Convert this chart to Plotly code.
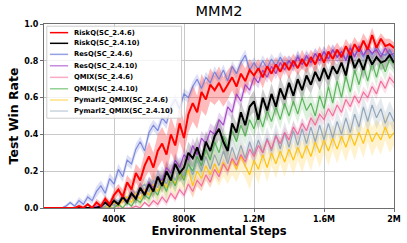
import plotly.graph_objects as go

steps = [i * 25000 for i in range(81)]

series_names = [
    "RiskQ(SC_2.4.6)", "RiskQ(SC_2.4.10)", "ResQ(SC_2.4.6)", "ResQ(SC_2.4.10)",
    "QMIX(SC_2.4.6)", "QMIX(SC_2.4.10)", "Pymarl2_QMIX(SC_2.4.6)", "Pymarl2_QMIX(SC_2.4.10)",
]

riskq_246 = [0, 0, 0, 0, 0, 0, 0, 0, 0.01, 0.0, 0.02, 0.0, 0.03, 0.01, 0.05, 0.02,
             0.07, 0.10, 0.06, 0.14, 0.10, 0.19, 0.15, 0.23, 0.28, 0.22, 0.31, 0.35,
             0.29, 0.40, 0.34, 0.46, 0.38, 0.51, 0.57, 0.52, 0.63, 0.59, 0.67, 0.64,
             0.68, 0.63, 0.67, 0.71, 0.66, 0.73, 0.69, 0.75, 0.72, 0.76, 0.71, 0.77,
             0.73, 0.78, 0.74, 0.79, 0.75, 0.80, 0.76, 0.81, 0.77, 0.82, 0.78, 0.84,
             0.79, 0.85, 0.81, 0.86, 0.82, 0.88, 0.83, 0.89, 0.85, 0.91, 0.86, 0.94,
             0.87, 0.92, 0.88, 0.89, 0.87]
riskq_246_sd = [0, 0, 0, 0, 0, 0, 0, 0, 0.01, 0.01, 0.01, 0.01, 0.02, 0.02, 0.02, 0.02,
                0.03, 0.03, 0.04, 0.04, 0.05, 0.05, 0.06, 0.07, 0.08, 0.08, 0.09, 0.09,
                0.10, 0.10, 0.09, 0.10, 0.09, 0.10, 0.10, 0.09, 0.10, 0.09, 0.09, 0.08,
                0.09, 0.08, 0.08, 0.07, 0.08, 0.07, 0.07, 0.06, 0.06, 0.05, 0.06, 0.05,
                0.05, 0.04, 0.05, 0.04, 0.05, 0.04, 0.04, 0.05, 0.04, 0.04, 0.05, 0.04,
                0.04, 0.04, 0.05, 0.04, 0.04, 0.04, 0.05, 0.04, 0.04, 0.04, 0.05, 0.04,
                0.04, 0.03, 0.04, 0.03, 0.03]

riskq_2410 = [0, 0, 0, 0, 0, 0, 0, 0, 0, 0, 0, 0, 0.0, 0.01, 0.03, 0.01,
              0.04, 0.02, 0.06, 0.03, 0.08, 0.05, 0.11, 0.07, 0.13, 0.09, 0.17, 0.12,
              0.20, 0.15, 0.24, 0.19, 0.22, 0.30, 0.27, 0.33, 0.26, 0.36, 0.31, 0.39,
              0.43, 0.36, 0.31, 0.46, 0.41, 0.52, 0.45, 0.55, 0.58, 0.48, 0.60, 0.53,
              0.62, 0.55, 0.65, 0.59, 0.68, 0.61, 0.70, 0.64, 0.72, 0.67, 0.74, 0.69,
              0.76, 0.70, 0.77, 0.73, 0.79, 0.72, 0.84, 0.76, 0.81, 0.75, 0.83, 0.78,
              0.82, 0.79, 0.80, 0.83, 0.79]
riskq_2410_sd = [0, 0, 0, 0, 0, 0, 0, 0, 0, 0, 0, 0, 0.01, 0.01, 0.01, 0.01,
                 0.02, 0.02, 0.02, 0.02, 0.03, 0.03, 0.03, 0.03, 0.04, 0.04, 0.04, 0.04,
                 0.05, 0.05, 0.05, 0.05, 0.05, 0.06, 0.05, 0.06, 0.05, 0.06, 0.05, 0.06,
                 0.06, 0.05, 0.06, 0.06, 0.05, 0.06, 0.06, 0.05, 0.06, 0.06, 0.05, 0.06,
                 0.06, 0.05, 0.06, 0.06, 0.05, 0.06, 0.05, 0.05, 0.06, 0.05, 0.05, 0.05,
                 0.05, 0.05, 0.04, 0.05, 0.05, 0.04, 0.05, 0.04, 0.04, 0.05, 0.04, 0.04,
                 0.04, 0.04, 0.04, 0.04, 0.04]

resq_246 = [0, 0, 0, 0, 0, 0.01, 0.03, 0.01, 0.04, 0.02, 0.06, 0.04, 0.09, 0.12, 0.08, 0.16,
            0.13, 0.21, 0.17, 0.26, 0.24, 0.32, 0.36, 0.31, 0.41, 0.45, 0.42, 0.49,
            0.46, 0.55, 0.59, 0.54, 0.62, 0.60, 0.66, 0.70, 0.65, 0.71, 0.68, 0.74,
            0.70, 0.75, 0.69, 0.77, 0.73, 0.79, 0.83, 0.75, 0.79, 0.75, 0.80, 0.76,
            0.81, 0.77, 0.82, 0.78, 0.80, 0.77, 0.83, 0.78, 0.82, 0.79, 0.84, 0.80,
            0.85, 0.81, 0.86, 0.82, 0.85, 0.81, 0.87, 0.83, 0.86, 0.82, 0.87, 0.83,
            0.88, 0.84, 0.83, 0.86, 0.82]
resq_246_sd = [0, 0, 0, 0, 0, 0.01, 0.01, 0.01, 0.02, 0.02, 0.02, 0.02, 0.03, 0.03, 0.03, 0.03,
               0.03, 0.03, 0.03, 0.03, 0.03, 0.03, 0.03, 0.03, 0.03, 0.03, 0.03, 0.03,
               0.03, 0.03, 0.03, 0.03, 0.03, 0.03, 0.03, 0.03, 0.03, 0.03, 0.03, 0.03,
               0.03, 0.03, 0.03, 0.03, 0.03, 0.03, 0.03, 0.03, 0.03, 0.03, 0.03, 0.03,
               0.03, 0.03, 0.03, 0.03, 0.03, 0.03, 0.03, 0.03, 0.03, 0.03, 0.03, 0.03,
               0.03, 0.03, 0.03, 0.03, 0.03, 0.03, 0.03, 0.03, 0.03, 0.03, 0.03, 0.03,
               0.03, 0.03, 0.03, 0.03, 0.03]

resq_2410 = [0, 0, 0, 0, 0, 0, 0, 0, 0, 0, 0, 0, 0.01, 0.0, 0.03, 0.01,
             0.04, 0.02, 0.06, 0.04, 0.08, 0.06, 0.11, 0.08, 0.14, 0.11, 0.17, 0.15,
             0.22, 0.19, 0.26, 0.22, 0.29, 0.26, 0.34, 0.29, 0.38, 0.35, 0.42, 0.40,
             0.48, 0.45, 0.55, 0.52, 0.62, 0.58, 0.67, 0.64, 0.71, 0.68, 0.75, 0.71,
             0.77, 0.73, 0.79, 0.75, 0.80, 0.77, 0.82, 0.78, 0.83, 0.79, 0.84, 0.80,
             0.85, 0.81, 0.86, 0.82, 0.85, 0.80, 0.87, 0.82, 0.88, 0.83, 0.87, 0.84,
             0.86, 0.82, 0.87, 0.83, 0.84]
resq_2410_sd = [0, 0, 0, 0, 0, 0, 0, 0, 0, 0, 0, 0, 0.01, 0.01, 0.01, 0.01,
                0.02, 0.02, 0.02, 0.02, 0.03, 0.03, 0.03, 0.03, 0.03, 0.04, 0.04, 0.04,
                0.04, 0.04, 0.04, 0.04, 0.04, 0.04, 0.04, 0.04, 0.04, 0.04, 0.04, 0.04,
                0.04, 0.04, 0.04, 0.04, 0.04, 0.04, 0.03, 0.03, 0.03, 0.03, 0.03, 0.03,
                0.03, 0.03, 0.03, 0.03, 0.03, 0.03, 0.03, 0.03, 0.03, 0.03, 0.03, 0.03,
                0.03, 0.03, 0.03, 0.03, 0.03, 0.03, 0.03, 0.03, 0.03, 0.03, 0.03, 0.03,
                0.03, 0.03, 0.03, 0.03, 0.03]

qmix_246 = [0, 0, 0, 0, 0, 0, 0, 0, 0, 0, 0, 0, 0, 0, 0, 0,
            0, 0, 0, 0, 0.0, 0.01, 0.0, 0.03, 0.01, 0.04, 0.02, 0.06,
            0.03, 0.08, 0.05, 0.10, 0.07, 0.13, 0.09, 0.15, 0.12, 0.18, 0.14, 0.21,
            0.17, 0.24, 0.20, 0.27, 0.23, 0.29, 0.25, 0.32, 0.28, 0.34, 0.30, 0.37,
            0.32, 0.39, 0.35, 0.41, 0.37, 0.44, 0.40, 0.46, 0.42, 0.49, 0.45, 0.51,
            0.48, 0.54, 0.50, 0.56, 0.52, 0.59, 0.55, 0.61, 0.57, 0.63, 0.60, 0.66,
            0.62, 0.69, 0.65, 0.71, 0.68]
qmix_246_sd = [0, 0, 0, 0, 0, 0, 0, 0, 0, 0, 0, 0, 0, 0, 0, 0,
               0, 0, 0, 0, 0.01, 0.01, 0.01, 0.01, 0.01, 0.02, 0.02, 0.02,
               0.02, 0.02, 0.02, 0.02, 0.02, 0.03, 0.03, 0.03, 0.03, 0.03, 0.03, 0.03,
               0.03, 0.03, 0.03, 0.03, 0.03, 0.03, 0.03, 0.03, 0.03, 0.03, 0.03, 0.03,
               0.03, 0.03, 0.03, 0.03, 0.03, 0.03, 0.03, 0.03, 0.03, 0.03, 0.03, 0.03,
               0.03, 0.03, 0.03, 0.03, 0.03, 0.03, 0.03, 0.03, 0.03, 0.03, 0.03, 0.03,
               0.03, 0.03, 0.03, 0.03, 0.03]

qmix_2410 = [0, 0, 0, 0, 0, 0, 0, 0, 0, 0, 0, 0, 0, 0, 0, 0,
             0.0, 0.02, 0.0, 0.03, 0.01, 0.05, 0.03, 0.07, 0.05, 0.10, 0.07, 0.14,
             0.09, 0.17, 0.12, 0.20, 0.15, 0.24, 0.20, 0.28, 0.23, 0.32, 0.26, 0.36,
             0.30, 0.39, 0.33, 0.42, 0.36, 0.45, 0.39, 0.48, 0.43, 0.51, 0.44, 0.53,
             0.47, 0.55, 0.48, 0.57, 0.50, 0.58, 0.51, 0.60, 0.53, 0.57, 0.50, 0.61,
             0.54, 0.66, 0.57, 0.69, 0.60, 0.72, 0.63, 0.75, 0.67, 0.77, 0.69, 0.79,
             0.71, 0.80, 0.74, 0.81, 0.78]
qmix_2410_sd = [0, 0, 0, 0, 0, 0, 0, 0, 0, 0, 0, 0, 0, 0, 0, 0,
                0.01, 0.01, 0.01, 0.01, 0.02, 0.02, 0.02, 0.02, 0.03, 0.03, 0.03, 0.03,
                0.04, 0.04, 0.04, 0.04, 0.04, 0.04, 0.05, 0.05, 0.05, 0.05, 0.05, 0.05,
                0.05, 0.05, 0.05, 0.05, 0.05, 0.05, 0.05, 0.05, 0.05, 0.05, 0.05, 0.05,
                0.05, 0.05, 0.05, 0.05, 0.05, 0.05, 0.05, 0.06, 0.06, 0.06, 0.06, 0.06,
                0.06, 0.06, 0.06, 0.06, 0.06, 0.06, 0.06, 0.06, 0.06, 0.05, 0.05, 0.05,
                0.05, 0.05, 0.05, 0.05, 0.05]

pym_246 = [0, 0, 0, 0, 0, 0, 0, 0, 0, 0, 0, 0, 0, 0, 0.01, 0.0,
           0.03, 0.01, 0.04, 0.06, 0.03, 0.08, 0.05, 0.10, 0.07, 0.13, 0.09, 0.15,
           0.11, 0.17, 0.13, 0.19, 0.16, 0.21, 0.12, 0.20, 0.16, 0.23, 0.18, 0.24,
           0.19, 0.25, 0.20, 0.26, 0.21, 0.28, 0.23, 0.18, 0.26, 0.21, 0.29, 0.22,
           0.30, 0.24, 0.31, 0.25, 0.32, 0.26, 0.33, 0.27, 0.34, 0.28, 0.36, 0.30,
           0.37, 0.31, 0.38, 0.32, 0.39, 0.33, 0.40, 0.34, 0.41, 0.35, 0.43, 0.36,
           0.41, 0.37, 0.44, 0.38, 0.41]
pym_246_sd = [0, 0, 0, 0, 0, 0, 0, 0, 0, 0, 0, 0, 0, 0, 0.01, 0.01,
              0.02, 0.02, 0.03, 0.03, 0.04, 0.04, 0.05, 0.05, 0.05, 0.06, 0.06, 0.06,
              0.07, 0.07, 0.07, 0.07, 0.07, 0.08, 0.07, 0.08, 0.07, 0.08, 0.07, 0.08,
              0.07, 0.08, 0.07, 0.08, 0.07, 0.08, 0.07, 0.08, 0.07, 0.08, 0.07, 0.08,
              0.07, 0.08, 0.07, 0.08, 0.07, 0.08, 0.07, 0.08, 0.07, 0.08, 0.07, 0.08,
              0.07, 0.08, 0.07, 0.08, 0.07, 0.08, 0.07, 0.08, 0.07, 0.08, 0.07, 0.08,
              0.07, 0.08, 0.07, 0.08, 0.07]

pym_2410 = [0, 0, 0, 0, 0, 0, 0, 0, 0, 0, 0, 0, 0, 0, 0.01, 0.03,
            0.01, 0.04, 0.06, 0.03, 0.08, 0.05, 0.11, 0.13, 0.09, 0.15, 0.11, 0.18,
            0.13, 0.20, 0.15, 0.22, 0.17, 0.24, 0.18, 0.26, 0.20, 0.28, 0.21, 0.29,
            0.23, 0.31, 0.24, 0.33, 0.26, 0.34, 0.27, 0.36, 0.29, 0.37, 0.30, 0.38,
            0.31, 0.40, 0.32, 0.41, 0.33, 0.42, 0.34, 0.43, 0.35, 0.44, 0.36, 0.45,
            0.37, 0.46, 0.38, 0.47, 0.40, 0.49, 0.41, 0.51, 0.44, 0.55, 0.47, 0.56,
            0.49, 0.54, 0.46, 0.52, 0.47]
pym_2410_sd = [0, 0, 0, 0, 0, 0, 0, 0, 0, 0, 0, 0, 0, 0, 0.01, 0.01,
               0.02, 0.02, 0.03, 0.03, 0.03, 0.04, 0.04, 0.04, 0.05, 0.05, 0.05, 0.05,
               0.05, 0.06, 0.06, 0.06, 0.06, 0.06, 0.06, 0.06, 0.06, 0.06, 0.06, 0.06,
               0.06, 0.06, 0.06, 0.06, 0.06, 0.06, 0.06, 0.06, 0.06, 0.06, 0.06, 0.06,
               0.06, 0.06, 0.06, 0.06, 0.06, 0.06, 0.06, 0.06, 0.06, 0.06, 0.06, 0.06,
               0.06, 0.06, 0.06, 0.06, 0.06, 0.06, 0.06, 0.06, 0.06, 0.06, 0.06, 0.06,
               0.06, 0.06, 0.06, 0.06, 0.06]

xtick_vals = [400000, 800000, 1200000, 1600000, 2000000]
xtick_text = ["400K", "800K", "1.2M", "1.6M", "2M"]
ytick_vals = [0.0, 0.2, 0.4, 0.6, 0.8, 1.0]
ytick_text = ["0.0", "0.2", "0.4", "0.6", "0.8", "1.0"]

means = [riskq_246, riskq_2410, resq_246, resq_2410, qmix_246, qmix_2410, pym_246, pym_2410]
sds = [riskq_246_sd, riskq_2410_sd, resq_246_sd, resq_2410_sd, qmix_246_sd, qmix_2410_sd, pym_246_sd, pym_2410_sd]
for arr in means + sds:
    assert len(arr) == len(steps), len(arr)

line_colors = ["rgb(255,0,0)", "rgb(0,0,0)", "rgba(100,115,215,0.8)", "rgba(150,50,190,0.85)",
               "rgba(240,100,150,0.9)", "rgba(70,170,70,0.85)", "rgba(255,195,15,1)", "rgba(140,160,180,0.9)"]
band_colors = ["rgba(255,60,60,0.35)", "rgba(60,60,60,0.25)", "rgba(90,105,210,0.2)", "rgba(150,50,190,0.2)",
               "rgba(240,100,150,0.2)", "rgba(70,170,70,0.18)", "rgba(255,205,60,0.25)", "rgba(150,170,190,0.25)"]
legend_colors = ["rgb(255,0,0)", "rgb(0,0,0)", "rgb(150,160,230)", "rgb(200,140,225)",
                 "rgb(250,170,195)", "rgb(150,210,150)", "rgb(255,225,130)", "rgb(200,212,222)"]
widths = [2.0, 2.0, 1.2, 1.2, 1.2, 1.2, 1.2, 1.2]
draw_order = [6, 7, 4, 5, 2, 3, 1, 0]

fig = go.Figure()
for k in draw_order:
    m, s = means[k], sds[k]
    upper = [min(1.0, a + b) for a, b in zip(m, s)]
    lower = [max(0.0, a - b) for a, b in zip(m, s)]
    fig.add_trace(go.Scatter(x=steps, y=upper, mode="lines", line=dict(width=0),
                             showlegend=False, hoverinfo="skip"))
    fig.add_trace(go.Scatter(x=steps, y=lower, mode="lines", line=dict(width=0),
                             fill="tonexty", fillcolor=band_colors[k],
                             showlegend=False, hoverinfo="skip"))
for k in draw_order:
    fig.add_trace(go.Scatter(x=steps, y=means[k], mode="lines", name=series_names[k],
                             line=dict(color=line_colors[k], width=widths[k]),
                             showlegend=False))

# manual compact legend (matplotlib-style)
row_y = [0.953, 0.895, 0.835, 0.773, 0.710, 0.648, 0.587, 0.527]
shapes = [dict(type="rect", xref="paper", yref="paper", x0=0.008, x1=0.393, y0=0.488, y1=0.988,
               line=dict(color="rgba(200,200,200,0.9)", width=1), fillcolor="rgba(255,255,255,0.8)",
               layer="above")]
annotations = []
for k, name in enumerate(series_names):
    shapes.append(dict(type="line", xref="paper", yref="paper", x0=0.017, x1=0.069,
                       y0=row_y[k], y1=row_y[k], line=dict(color=legend_colors[k], width=1.5),
                       layer="above"))
    annotations.append(dict(xref="paper", yref="paper", x=0.079, y=row_y[k], text="<b>%s</b>" % name,
                            showarrow=False, xanchor="left", yanchor="middle",
                            font=dict(size=6.8, color="black", family="DejaVu Sans")))

fig.update_layout(
    width=407, height=243,
    margin=dict(l=44, r=13, t=24, b=35, autoexpand=False),
    paper_bgcolor="white", plot_bgcolor="white",
    font=dict(family="DejaVu Sans", color="black"),
    title=dict(text="MMM2", x=0.5, xref="paper", xanchor="center", yref="container", y=0.954,
               yanchor="middle", font=dict(size=14.5, color="black")),
    shapes=shapes, annotations=annotations,
    showlegend=False,
)
fig.update_xaxes(range=[0, 2000000], tickvals=xtick_vals, ticktext=["<b>%s</b>" % t for t in xtick_text],
                 showgrid=True, gridcolor="rgb(200,200,200)", gridwidth=1, automargin=False,
                 showline=True, linecolor="rgb(110,110,110)", linewidth=1, mirror=True,
                 ticks="outside", ticklen=3, tickcolor="rgb(110,110,110)",
                 tickfont=dict(size=8), zeroline=False,
                 title=dict(text="<b>Environmental Steps</b>", font=dict(size=11.5), standoff=2))
fig.update_yaxes(range=[0, 1.0], tickvals=ytick_vals, ticktext=["<b>%s</b>" % t for t in ytick_text],
                 showgrid=True, gridcolor="rgb(200,200,200)", gridwidth=1, automargin=False,
                 showline=True, linecolor="rgb(110,110,110)", linewidth=1, mirror=True,
                 ticks="outside", ticklen=3, tickcolor="rgb(110,110,110)",
                 tickfont=dict(size=8), zeroline=False,
                 title=dict(text="<b>Test Win Rate</b>", font=dict(size=12.5), standoff=2))

fig.write_html("out.html", config={"displayModeBar": False},
               post_script="document.body.style.margin='0';document.body.style.overflow='hidden';")
